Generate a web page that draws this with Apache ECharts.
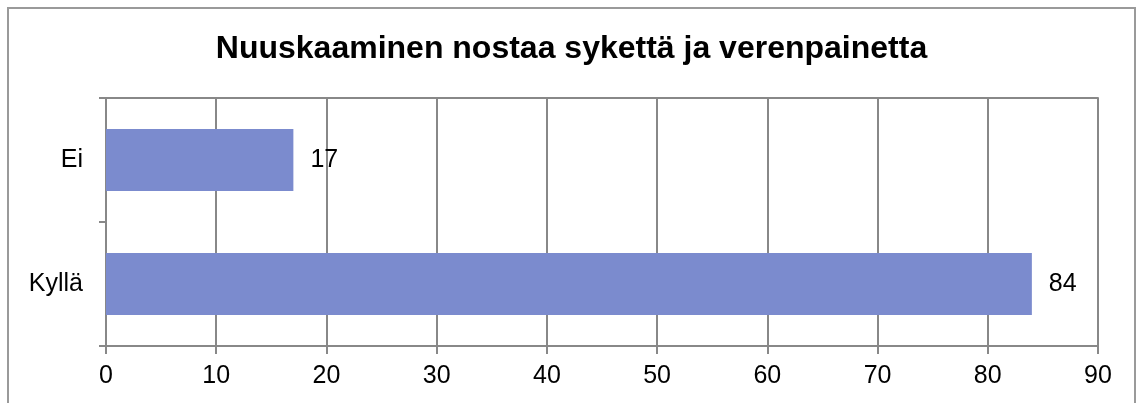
<!DOCTYPE html>
<html>
<head>
<meta charset="utf-8">
<script src="https://cdn.jsdelivr.net/npm/echarts@6/dist/echarts.min.js"></script>
<style>
html,body{margin:0;padding:0;background:#fff;}
#main{width:1143px;height:403px;}
</style>
</head>
<body>
<div id="main"></div>
<script>
// data
var categories = ['Kyllä', 'Ei'];
var values = [84, 17];
var xTicks = [0, 10, 20, 30, 40, 50, 60, 70, 80, 90];

var chart = echarts.init(document.getElementById('main'));
chart.setOption({
	animation: false,
	textStyle: { fontFamily: '"Liberation Sans", Arial, sans-serif' },
	title: {
		text: 'Nuuskaaminen nostaa sykettä ja verenpainetta',
		left: 'center',
		top: 28,
		textStyle: {
			color: '#000',
			fontSize: 32,
			fontWeight: 'bold',
			fontFamily: '"Liberation Sans", Arial, sans-serif'
		}
	},
	// outer chart frame
	graphic: [{
		type: 'rect',
		shape: { x: 8, y: 8, width: 1127, height: 420 },
		style: { fill: 'none', stroke: '#9a9a9a', lineWidth: 2 },
		silent: true
	}],
	grid: {
		left: 106,
		right: 45,
		top: 98,
		bottom: 57
	},
	xAxis: [{
		type: 'value',
		min: xTicks[0],
		max: xTicks[xTicks.length - 1],
		interval: 10,
		axisLine: { show: true, lineStyle: { color: '#888', width: 2 } },
		axisTick: { show: true, length: 8, lineStyle: { color: '#888', width: 2 } },
		splitLine: { show: true, lineStyle: { color: '#888', width: 2 } },
		axisLabel: { color: '#000', fontSize: 25, margin: 18 }
	}, {
		// top border line of the plot area
		type: 'value',
		position: 'top',
		min: xTicks[0],
		max: xTicks[xTicks.length - 1],
		interval: 10,
		axisLine: { show: true, onZero: false, lineStyle: { color: '#888', width: 2 } },
		axisTick: { show: false },
		axisLabel: { show: false },
		splitLine: { show: false }
	}],
	yAxis: {
		type: 'category',
		data: categories,
		axisLine: { show: true, lineStyle: { color: '#888', width: 2 } },
		axisTick: { show: true, length: 7, alignWithLabel: false, lineStyle: { color: '#888', width: 2 } },
		axisLabel: { color: '#000', fontSize: 25, margin: 23 },
		splitLine: { show: false }
	},
	series: [{
		type: 'bar',
		data: values,
		barWidth: '50%',
		itemStyle: { color: '#7b8bce' },
		label: {
			show: true,
			position: 'right',
			distance: 17,
			color: '#000',
			fontSize: 25
		}
	}]
});
</script>
</body>
</html>
